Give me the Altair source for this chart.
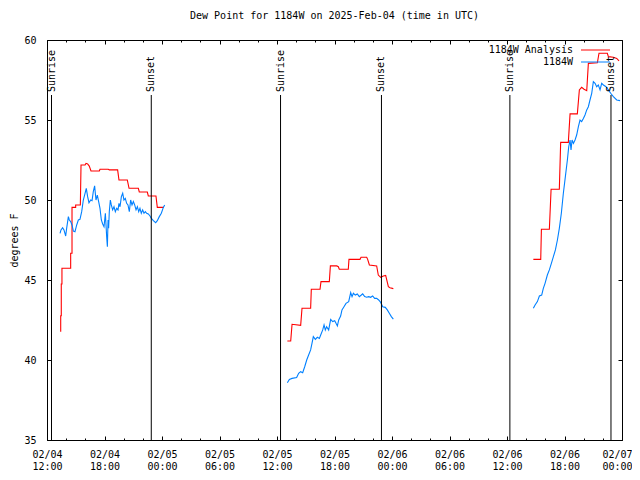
import altair as alt
import pandas as pd

# Time axis: hours since 2025-02-04 12:00 UTC
# ---- 1184W Analysis (red) ----
ana1_hours = [1.43, 1.43, 1.49, 1.49, 1.56, 1.56, 2.47, 2.47, 2.61, 2.61, 2.99, 2.99, 3.48, 3.55, 3.97,
              4.07, 4.24, 4.41, 4.59, 5.46, 5.53, 6.40, 6.50, 7.37, 7.51, 8.38, 8.56, 9.53, 9.63,
              10.47, 10.57, 11.37, 11.51, 12.21]
ana1_values = [41.77, 42.77, 42.77, 44.75, 44.75, 45.73, 45.73, 46.67, 46.67, 49.54, 49.54, 49.69, 49.69,
               52.19, 52.19, 52.29, 52.25, 52.12, 51.81, 51.81, 51.92, 51.92, 51.88, 51.88, 51.25,
               51.25, 50.73, 50.73, 50.5, 50.5, 50.25, 50.25, 49.54, 49.54]

ana2_hours = [25.08, 25.43, 25.57, 26.47, 26.61, 27.51, 27.58, 28.49, 28.59, 29.46, 29.57, 30.23, 30.40,
              30.50, 31.44, 31.51, 32.66, 32.77, 33.36, 33.46, 33.64, 34.40, 34.57, 34.82, 35.10,
              35.34, 35.62, 35.79, 36.14]
ana2_values = [41.19, 41.19, 42.23, 42.17, 43.23, 43.23, 44.42, 44.42, 44.9, 44.9, 45.88, 45.88, 45.83,
               45.67, 45.67, 46.29, 46.29, 46.42, 46.42, 46.29, 45.94, 45.88, 45.31, 45.17, 45.25,
               45.29, 44.58, 44.52, 44.46]

ana3_hours = [50.75, 51.52, 51.59, 52.42, 52.60, 53.46, 53.60, 54.40, 54.58, 55.34, 55.55, 55.79, 56.04,
              56.32, 56.49, 57.43, 57.60, 58.47, 58.58, 59.10, 59.45, 59.69]
ana3_values = [46.29, 46.29, 48.17, 48.17, 50.67, 50.67, 53.60, 53.60, 55.38, 55.38, 56.88, 57.04, 56.92,
               56.83, 58.54, 58.58, 59.17, 59.17, 58.96, 58.92, 58.85, 58.70]

# ---- 1184W observations (blue) ----
obs1_hours = [1.36, 1.46, 1.63, 1.77, 1.95, 2.05, 2.23, 2.33, 2.47, 2.61, 2.75, 2.92, 3.10, 3.27, 3.44,
              3.62, 3.79, 3.97, 4.10, 4.24, 4.38, 4.56, 4.70, 4.83, 4.97, 5.11, 5.25, 5.39, 5.53, 5.67,
              5.81, 5.95, 6.09, 6.23, 6.30, 6.37, 6.43, 6.50, 6.61, 6.71, 6.85, 6.99, 7.13, 7.27, 7.41,
              7.51, 7.62, 7.76, 7.90, 8.03, 8.17, 8.31, 8.45, 8.59, 8.73, 8.87, 9.01, 9.15, 9.29, 9.43,
              9.57, 9.70, 9.84, 9.98, 10.12, 10.26, 10.40, 10.57, 10.75, 10.89, 11.10, 11.34, 11.51,
              11.72, 11.93, 12.14, 12.28]
obs1_values = [47.92, 48.13, 48.27, 48.13, 47.75, 48.23, 48.96, 48.75, 48.65, 48.44, 48.06, 48.02, 48.44,
               48.75, 48.79, 49.27, 50.0, 50.42, 50.73, 50.21, 49.83, 50.0, 49.96, 50.52, 50.88, 50.0,
               50.31, 49.9, 49.48, 48.75, 48.5, 48.33, 49.17, 47.67, 47.08, 48.75, 48.23, 49.27, 50.0,
               49.69, 49.38, 49.58, 49.27, 49.48, 49.38, 49.79, 49.58, 50.21, 50.42, 50.0, 50.1, 49.79,
               49.69, 49.27, 50.0, 49.69, 49.9, 49.69, 49.38, 49.58, 49.27, 49.48, 49.17, 49.38, 49.17,
               49.27, 49.17, 49.13, 49.0, 48.85, 48.71, 48.58, 48.71, 48.96, 49.17, 49.54, 49.69]

obs2_hours = [25.08, 25.29, 25.57, 26.05, 26.26, 26.47, 26.68, 26.89, 27.10, 27.30, 27.51, 27.65, 27.79,
              28.00, 28.21, 28.42, 28.56, 28.77, 28.91, 29.04, 29.18, 29.39, 29.60, 29.81, 30.02, 30.16,
              30.30, 30.44, 30.64, 30.78, 30.99, 31.20, 31.48, 31.69, 31.83, 31.97, 32.17, 32.38, 32.59,
              32.80, 32.94, 33.15, 33.36, 33.57, 33.77, 33.98, 34.19, 34.40, 34.61, 34.82, 35.03, 35.30,
              35.51, 35.72, 35.93, 36.14]
obs2_values = [38.58, 38.79, 38.85, 38.9, 39.17, 39.27, 39.21, 39.58, 40.0, 40.31, 40.63, 41.04, 41.46,
               41.29, 41.42, 41.35, 41.56, 41.88, 42.19, 41.88, 42.08, 41.88, 42.54, 42.4, 42.46, 42.29,
               42.13, 42.5, 42.75, 43.13, 43.33, 43.54, 43.65, 44.21, 43.96, 44.17, 44.06, 44.13, 43.96,
               44.06, 44.13, 43.96, 43.92, 43.96, 43.92, 44.0, 43.85, 43.85, 43.75, 43.6, 43.33, 43.29,
               43.13, 42.92, 42.71, 42.56]

obs3_hours = [50.75, 50.93, 51.17, 51.38, 51.62, 51.79, 51.97, 52.21, 52.42, 52.63, 52.84, 53.05, 53.26,
              53.46, 53.67, 53.88, 54.09, 54.30, 54.44, 54.58, 54.68, 54.79, 54.93, 55.10, 55.27, 55.45,
              55.62, 55.79, 55.97, 56.14, 56.32, 56.49, 56.66, 56.84, 57.01, 57.19, 57.36, 57.53, 57.71,
              57.88, 58.06, 58.33, 58.58, 58.82, 59.10, 59.45, 59.80]
obs3_values = [43.23, 43.44, 43.65, 44.0, 44.06, 44.48, 44.79, 45.31, 45.63, 46.04, 46.46, 46.88, 47.5,
               48.23, 49.17, 50.42, 51.46, 52.5, 53.33, 53.75, 53.13, 53.75, 53.54, 53.75, 54.06, 54.58,
               55.0, 54.9, 55.1, 55.31, 55.63, 55.83, 56.25, 56.67, 57.4, 57.29, 57.08, 57.19, 56.88,
               57.29, 57.19, 57.08, 56.88, 56.67, 56.46, 56.25, 56.21]

# Sunrise / sunset (hours since 02/04 12:00 UTC)
sun_hours = [0.47, 10.88, 24.37, 34.90, 48.30, 58.85]
sun_labels = ["Sunrise", "Sunset", "Sunrise", "Sunset", "Sunrise", "Sunset"]

# Axis ticks
major_ticks = [0, 6, 12, 18, 24, 30, 36, 42, 48, 54, 60]
minor_ticks = [0, 2, 4, 6, 8, 10, 12, 14, 16, 18, 20, 22, 24, 26, 28, 30, 32, 34, 36, 38, 40, 42,
               44, 46, 48, 50, 52, 54, 56, 58, 60]
y_ticks = [35, 40, 45, 50, 55, 60]

legend_labels = ["1184W Analysis", "1184W"]
RED = "#ff0000"
BLUE = "#0080ff"
FONT = "DejaVu Sans Mono"
W, H = 575, 400


def seg(hours, values, sid):
    d = pd.DataFrame({"hour": hours, "value": values})
    d["segment"] = sid
    d["order"] = range(len(d))
    return d


ana = pd.concat([seg(ana1_hours, ana1_values, 1), seg(ana2_hours, ana2_values, 2),
                 seg(ana3_hours, ana3_values, 3)], ignore_index=True)
obs = pd.concat([seg(obs1_hours, obs1_values, 1), seg(obs2_hours, obs2_values, 2),
                 seg(obs3_hours, obs3_values, 3)], ignore_index=True)
sun = pd.DataFrame({"hour": sun_hours, "label": sun_labels})

xs = alt.Scale(domain=[0, 60], nice=False, zero=False)
ys = alt.Scale(domain=[35, 60], nice=False, zero=False)


def tick_axis(orient, values, size):
    return alt.Axis(orient=orient, offset=-(H if orient in ("top", "bottom") else W),
                    values=values, tickSize=size, tickColor="black", tickWidth=1,
                    labels=False, domain=False, grid=False, title=None)


label_expr = ("['02/0' + (4 + floor((datum.value + 12) / 24)), "
              "(((datum.value + 12) % 24) < 10 ? '0' : '') + ((datum.value + 12) % 24) + ':00']")

x_label_axis = alt.Axis(values=major_ticks, ticks=False, domain=False, grid=False, title=None,
                        labelExpr=label_expr, labelFont=FONT, labelFontSize=10, labelColor="black",
                        labelPadding=9, labelLineHeight=12, labelFlush=False, labelOverlap=False,
                        labelOffset={"condition": {"test": "datum.value >= 60", "value": -5},
                                     "value": 0})
y_label_axis = alt.Axis(values=y_ticks, ticks=False, domain=False, grid=False, title="degrees F",
                        labelFont=FONT, labelFontSize=10, labelColor="black", labelPadding=11,
                        titleFont=FONT, titleFontSize=10, titleFontWeight="normal", titleColor="black",
                        titleX=-33, titleY=H / 2, titleAngle=270, titleAlign="center",
                        titleBaseline="middle")

red_line = alt.Chart(ana).mark_line(color=RED, strokeWidth=1.1).encode(
    x=alt.X("hour:Q", scale=xs, axis=x_label_axis),
    y=alt.Y("value:Q", scale=ys, axis=y_label_axis),
    detail="segment:N",
    order="order:Q",
)

blue_line = alt.Chart(obs).mark_line(color=BLUE, strokeWidth=1.1).encode(
    x=alt.X("hour:Q", scale=xs, axis=tick_axis("top", minor_ticks, 2)),
    y=alt.Y("value:Q", scale=ys, axis=tick_axis("right", y_ticks, 4)),
    detail="segment:N",
    order="order:Q",
)

ghost_a = alt.Chart(obs).mark_point(opacity=0).encode(
    x=alt.X("hour:Q", scale=xs, axis=tick_axis("top", major_ticks, 4)),
    y=alt.Y("value:Q", scale=ys, axis=tick_axis("left", y_ticks, 4)),
)

ghost_b = alt.Chart(obs).mark_point(opacity=0).encode(
    x=alt.X("hour:Q", scale=xs, axis=tick_axis("bottom", minor_ticks, 2)),
    y=alt.Y("value:Q", scale=ys, axis=None),
)

sun_rules = alt.Chart(sun).mark_rule(color="black", strokeWidth=1).encode(
    x=alt.X("hour:Q", scale=xs, axis=tick_axis("bottom", major_ticks, 4)),
    y=alt.value(55),
    y2=alt.value(H),
)

sun_text = alt.Chart(sun).mark_text(angle=270, align="left", baseline="middle", font=FONT,
                                    fontSize=10, color="black").encode(
    x=alt.X("hour:Q", scale=xs, axis=None),
    y=alt.value(52),
    text="label:N",
)

leg_df_a = pd.DataFrame({"label": [legend_labels[0]]})
leg_df_b = pd.DataFrame({"label": [legend_labels[1]]})

leg_text_a = alt.Chart(leg_df_a).mark_text(align="right", baseline="middle", font=FONT, fontSize=10,
                                           color="black").encode(
    x=alt.value(526), y=alt.value(10), text="label:N")
leg_text_b = alt.Chart(leg_df_b).mark_text(align="right", baseline="middle", font=FONT, fontSize=10,
                                           color="black").encode(
    x=alt.value(526), y=alt.value(22), text="label:N")
leg_rule_a = alt.Chart(leg_df_a).mark_rule(color=RED, strokeWidth=1).encode(
    x=alt.value(534), x2=alt.value(563), y=alt.value(10))
leg_rule_b = alt.Chart(leg_df_b).mark_rule(color=BLUE, strokeWidth=1).encode(
    x=alt.value(534), x2=alt.value(563), y=alt.value(22))

chart = alt.layer(
    red_line, blue_line, ghost_a, ghost_b, sun_rules, sun_text,
    leg_rule_a, leg_rule_b, leg_text_a, leg_text_b,
).resolve_axis(
    x="independent", y="independent"
).properties(
    width=W, height=H,
    title=alt.TitleParams("Dew Point for 1184W on 2025-Feb-04 (time in UTC)", font=FONT, fontSize=10,
                          fontWeight="normal", anchor="middle", offset=14, color="black"),
    autosize=alt.AutoSizeParams(type="none"),
    padding={"left": 39, "top": 32, "right": 10, "bottom": 30},
).configure_view(
    stroke="black", strokeWidth=1
)

chart.save("out.html", embed_options={"renderer": "svg", "actions": False})
